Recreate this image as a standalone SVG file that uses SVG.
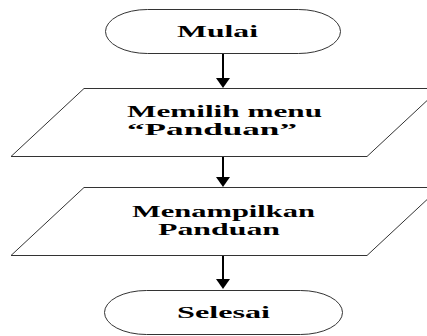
<svg xmlns="http://www.w3.org/2000/svg" width="427" height="336" viewBox="0 0 427 336">
<style>
.shape{fill:#fff;stroke:#333;stroke-width:1}
.lbl{font-family:"Liberation Serif","Times New Roman",serif;font-size:17px;font-weight:bold;fill:#000}
.conn{stroke:#000;stroke-width:2;fill:none}
</style>
<defs>
<marker id="ah" markerUnits="userSpaceOnUse" markerWidth="10" markerHeight="14" refX="2" refY="7" orient="auto" viewBox="0 0 10 14">
<path d="M0,0 L10,7 L0,14 Z" fill="#000"/>
</marker>
</defs>
<rect width="427" height="336" fill="#fff"/>
<g id="mulai">
<rect class="shape" x="105.5" y="9.5" width="235" height="44" rx="42" ry="22"/>
<text class="lbl" x="177" y="37" textLength="81" lengthAdjust="spacingAndGlyphs">Mulai</text>
</g>
<g id="memilih">
<polygon class="shape" points="84,88.5 440,88.5 367,156.5 11,156.5"/>
<text class="lbl" x="127" y="117" textLength="195" lengthAdjust="spacingAndGlyphs">Memilih menu</text>
<text class="lbl" x="127" y="135" textLength="170" lengthAdjust="spacingAndGlyphs">“Panduan”</text>
</g>
<g id="menampilkan">
<polygon class="shape" points="84,187.5 440,187.5 367,255.5 11,255.5"/>
<text class="lbl" x="132" y="217" textLength="183" lengthAdjust="spacingAndGlyphs">Menampilkan</text>
<text class="lbl" x="158" y="235" textLength="122" lengthAdjust="spacingAndGlyphs">Panduan</text>
</g>
<g id="selesai">
<rect class="shape" x="104.5" y="290.5" width="238" height="44" rx="42" ry="22"/>
<text class="lbl" x="177" y="318" textLength="93" lengthAdjust="spacingAndGlyphs">Selesai</text>
</g>
<g id="connectors">
<line class="conn" x1="223" y1="54" x2="223" y2="80" marker-end="url(#ah)"/>
<line class="conn" x1="223" y1="157" x2="223" y2="179" marker-end="url(#ah)"/>
<line class="conn" x1="223" y1="256" x2="223" y2="281" marker-end="url(#ah)"/>
</g>
</svg>
